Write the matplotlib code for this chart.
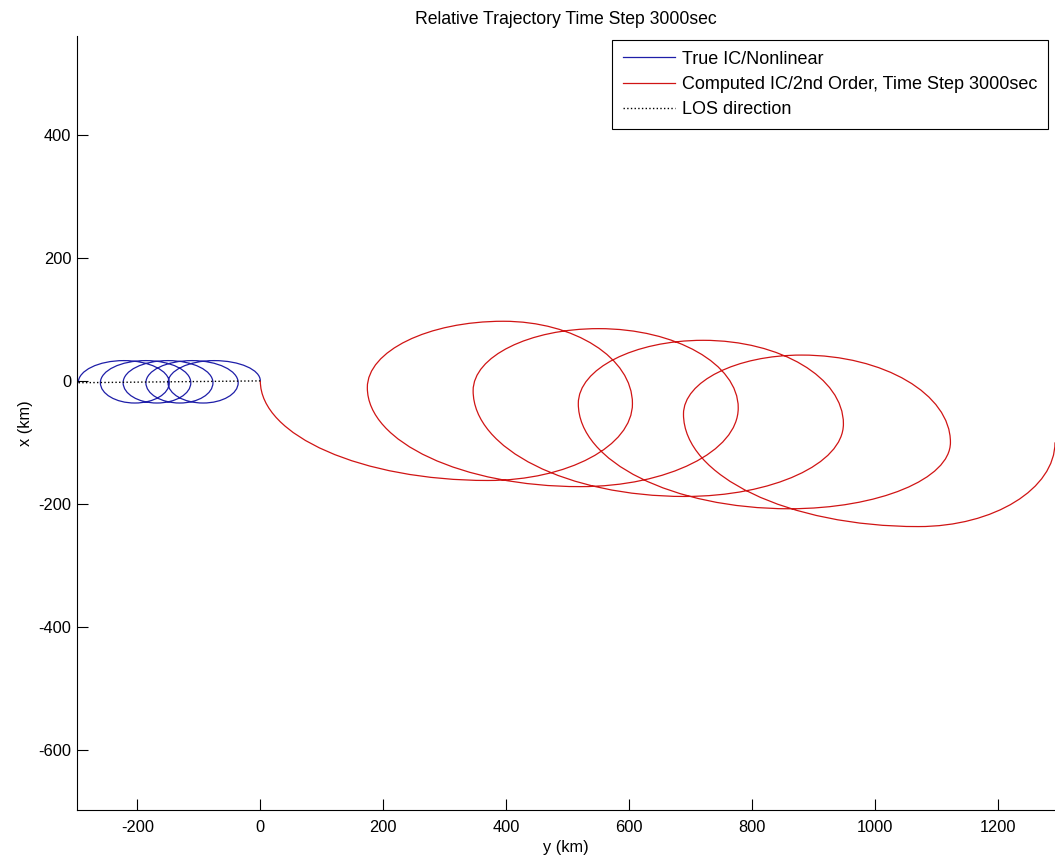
import numpy as np
import matplotlib
matplotlib.use("Agg")
import matplotlib.pyplot as plt
from matplotlib.path import Path
from matplotlib.patches import PathPatch


title = "Relative Trajectory Time Step 3000sec"
units = "km"

# Nonlinear (true IC) trajectory: extreme points of each revolution, in km
# order is right -> top -> left -> bottom -> right ...
trueY = [0, -75, -150, -93, -36, -111, -186, -131, -77, -150, -223, -168, -113, -186, -260, -204, -148, -222, -296]
trueX = [0, 33, -3, -36, -3, 33, -3, -36, -3, 33, -3, -36, -3, 33, -3, -36, -3, 33, -3]

# 2nd order (computed IC) trajectory extremes, order left -> bottom -> right -> top ...
compY = [0, 370, 605, 395, 174, 520, 777, 550, 346, 690, 948, 720, 517, 860, 1122, 880, 688, 1070, 1292]
compX = [0, -162, -37, 97, -11, -172, -44, 85, -16, -188, -70, 66, -37, -208, -100, 42, -54, -237, -100]

# line of sight
losY = [0, -296]
losX = [0, -3]

# True when the curve passes the point with a vertical tangent
trueVertical = [i % 2 == 0 for i in range(len(trueY))]
compVertical = [i % 2 == 0 for i in range(len(compY))]


def quarterArcs(ys, xs, vertical):
    # chain of quarter-ellipse bezier segments through the extreme points
    k = 0.5523
    verts = [(ys[0], xs[0])]
    codes = [Path.MOVETO]
    for i in range(1, len(ys)):
        y0, x0 = ys[i - 1], xs[i - 1]
        y1, x1 = ys[i], xs[i]
        if vertical[i - 1]:
            c1 = (y0, x0 + k * (x1 - x0))
            c2 = (y1 - k * (y1 - y0), x1)
        else:
            c1 = (y0 + k * (y1 - y0), x0)
            c2 = (y1, x1 - k * (x1 - x0))
        verts += [c1, c2, (y1, x1)]
        codes += [Path.CURVE4] * 3
    return Path(verts, codes)


plt.rcParams['font.family'] = ['Liberation Sans', 'DejaVu Sans']
plt.rcParams['font.size'] = 12
plt.rcParams['axes.unicode_minus'] = False

fig = plt.figure(figsize=(10.55, 8.66), dpi=100)
ax = fig.add_axes([0.073, 0.0647, 0.927, 0.8937])

blue = '#1e1ea8'
red = '#d01414'

ax.add_patch(PathPatch(quarterArcs(trueY, trueX, trueVertical), facecolor='none', edgecolor=blue, lw=0.9))
ax.add_patch(PathPatch(quarterArcs(compY, compX, compVertical), facecolor='none', edgecolor=red, lw=0.9))
ax.plot(losY, losX, ':', color='black', lw=1.0)

handles = [
    plt.Line2D([], [], color=blue, lw=0.9, label='True IC/Nonlinear'),
    plt.Line2D([], [], color=red, lw=0.9, label='Computed IC/2nd Order, Time Step 3000sec'),
    plt.Line2D([], [], color='black', lw=1.0, linestyle=':', label='LOS direction'),
]
leg = ax.legend(handles=handles, loc='upper right', bbox_to_anchor=(0.993, 0.995), borderaxespad=0,
                fancybox=False, framealpha=1, edgecolor='black', fontsize=13, handlelength=2.9,
                handletextpad=0.39, labelspacing=0.45, borderpad=0.6)
leg.get_frame().set_linewidth(0.8)

ax.set_xlim(-298, 1292)
ax.set_ylim(-698, 561)
ax.set_aspect('equal', adjustable='datalim')
ax.set_xticks(np.arange(-200, 1201, 200))
ax.set_yticks(np.arange(-600, 401, 200))

for side in ['top', 'right']:
    ax.spines[side].set_visible(False)
for side in ['left', 'bottom']:
    ax.spines[side].set_linewidth(0.8)
ax.tick_params(direction='in', length=8, width=0.8, labelsize=11.8)
ax.tick_params(axis='x', pad=7)
ax.tick_params(axis='y', pad=4)

ax.set_title(title, pad=9, fontsize=12.7)
ax.set_xlabel(f"y ({units})", fontsize=11.8)
ax.set_ylabel(f"x ({units})", fontsize=11.8)

fig.savefig("out.png", dpi=100)
